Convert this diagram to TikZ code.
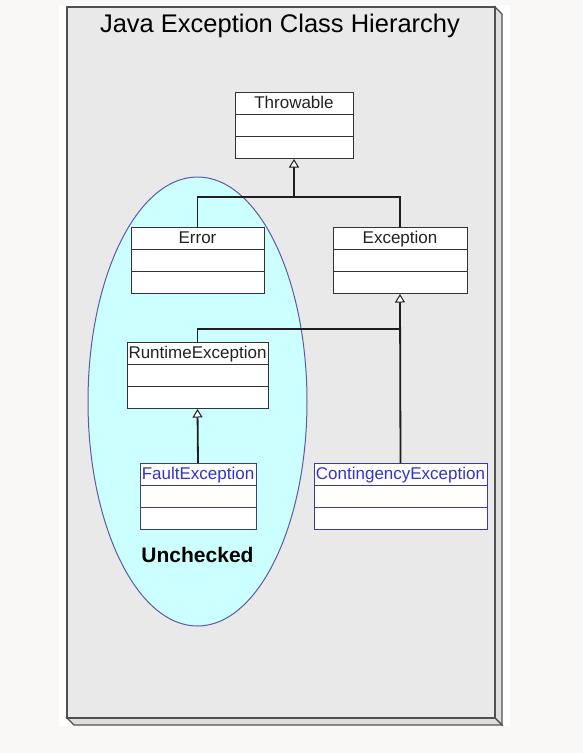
\documentclass[tikz,border=0pt]{standalone}
\usepackage{fontspec}
\setmainfont{Liberation Sans}
\usetikzlibrary{shapes.multipart,arrows.meta}
\definecolor{pagebg}{HTML}{F9F8F6}
\definecolor{panelfill}{HTML}{E9E9E9}
\definecolor{extrfill}{HTML}{DEDEDE}
\definecolor{panelline}{HTML}{505050}
\definecolor{boxline}{HTML}{333333}
\definecolor{boxtext}{HTML}{222222}
\definecolor{blueline}{HTML}{3A3AA0}
\definecolor{bluetext}{HTML}{3333CC}
\definecolor{ellfill}{HTML}{CCFFFF}
\definecolor{ellline}{HTML}{5A5AAA}
\definecolor{connc}{HTML}{1E1E1E}
\newcommand\clsrow{\rule[-6pt]{0pt}{21pt}}
\newcommand\clsbody[2]{\makebox[#1]{\clsrow#2}\nodepart{two}\clsrow\nodepart{three}\clsrow}
\tikzset{
  cls/.style={rectangle split, rectangle split parts=3, draw=boxline, fill=white,
    line width=1pt, inner sep=0pt, anchor=north, text=boxtext,
    font=\fontsize{17}{19}\selectfont},
  bluecls/.style={cls, draw=blueline, text=bluetext},
  conn/.style={line width=1.8pt, draw=connc},
  inh/.style={conn, -{Triangle[fill=white, width=10pt, length=8.5pt, line width=1pt]}},
  panel/.style={draw=panelline, line width=1.3pt},
}
\begin{document}
\begin{tikzpicture}[x=1pt,y=-1pt]
\useasboundingbox (0,0) rectangle (583,753);
\fill[pagebg] (0,0) rectangle (583,753);
\fill[white] (59,5) rectangle (510,726);
% panel with 3D edge
\draw[panel, fill=extrfill] (495,7) -- (502,14) -- (502,725) -- (495,718) -- cycle;
\draw[panel, fill=extrfill] (67,718) -- (495,718) -- (502,725) -- (74,725) -- cycle;
\draw[panel, fill=panelfill] (67,7) rectangle (495,718);
\node[anchor=base, text=black, font=\fontsize{25.5}{28}\selectfont] (title) at (280,32) {Java Exception Class Hierarchy};
% unchecked region
\draw[draw=ellline, fill=ellfill, line width=1pt] (197.5,401.5) ellipse [x radius=109.5, y radius=224.5];
\node[anchor=base, font=\bfseries\fontsize{21}{24}\selectfont, text=black] (unchk) at (197.5,562) {Unchecked};
% classes
\node[cls] (thr) at (294,92) {\clsbody{118pt}{Throwable}};
\node[cls] (err) at (197.5,227) {\clsbody{133pt}{Error}};
\node[cls] (exc) at (400,227) {\clsbody{134pt}{Exception}};
\node[cls] (rte) at (197.5,342) {\clsbody{141pt}{RuntimeException}};
\node[bluecls] (flt) at (198,463) {\clsbody{116pt}{FaultException}};
\node[bluecls] (cnt) at (400.5,463) {\clsbody{173pt}{ContingencyException}};
% connectors
\coordinate (j1) at (294,197);
\coordinate (j2) at (400,329);
\draw[conn] (err.north) |- (j1) -| (exc.north);
\draw[inh] (j1) -- (thr.south);
\draw[conn] (rte.north) |- (j2);
\draw[inh] (cnt.north) -- (exc.south);
\draw[inh] (flt.north) -- (rte.south);
\end{tikzpicture}
\end{document}
